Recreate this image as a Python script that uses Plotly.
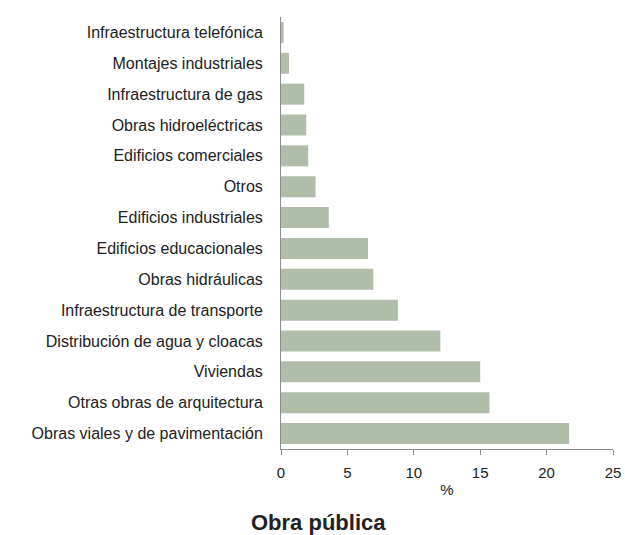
import plotly.graph_objects as go

# categories listed bottom to top (largest first)
categories = [
    "Obras viales y de pavimentación",
    "Otras obras de arquitectura",
    "Viviendas",
    "Distribución de agua y cloacas",
    "Infraestructura de transporte",
    "Obras hidráulicas",
    "Edificios educacionales",
    "Edificios industriales",
    "Otros",
    "Edificios comerciales",
    "Obras hidroeléctricas",
    "Infraestructura de gas",
    "Montajes industriales",
    "Infraestructura telefónica",
]
shares = [21.7, 15.7, 15.0, 12.0, 8.8, 6.95, 6.55, 3.6, 2.6, 2.05, 1.9, 1.75, 0.6, 0.2]
x_ticks = [0, 5, 10, 15, 20, 25]

fig = go.Figure(
    go.Bar(
        y=categories,
        x=shares,
        orientation="h",
        marker=dict(color="#b0bdab", line=dict(width=0)),
    )
)

font_name = "Liberation Sans, Arial, sans-serif"

fig.update_layout(
    width=625,
    height=535,
    margin=dict(l=281, r=12, t=17, b=86),
    plot_bgcolor="white",
    paper_bgcolor="white",
    bargap=0.32,
    showlegend=False,
    font=dict(family=font_name, size=15, color="#222222"),
    annotations=[
        dict(
            text="<b>Obra pública</b>",
            xref="paper",
            yref="paper",
            x=0.114,
            y=-0.169,
            xanchor="center",
            yanchor="middle",
            showarrow=False,
            font=dict(size=22, color="#222222", family=font_name),
        )
    ],
)

fig.update_xaxes(
    range=[0, 25],
    tickvals=x_ticks,
    automargin=False,
    showgrid=False,
    zeroline=False,
    showline=True,
    linecolor="#8c8c8c",
    linewidth=1,
    ticks="outside",
    ticklen=5,
    tickcolor="#8c8c8c",
    ticklabelstandoff=5,
    tickfont=dict(size=15),
    title=dict(text="%", font=dict(size=15), standoff=4),
)

fig.update_yaxes(
    categoryorder="array",
    categoryarray=categories,
    automargin=False,
    showgrid=False,
    showline=True,
    linecolor="#8c8c8c",
    linewidth=1,
    ticks="",
    ticklabelstandoff=14,
    tickfont=dict(size=16),
)

# drop the default page margin so the figure sits at the window corner
fig.write_html(
    "out.html",
    config={"displayModeBar": False},
    post_script="document.body.style.margin='0';",
)
